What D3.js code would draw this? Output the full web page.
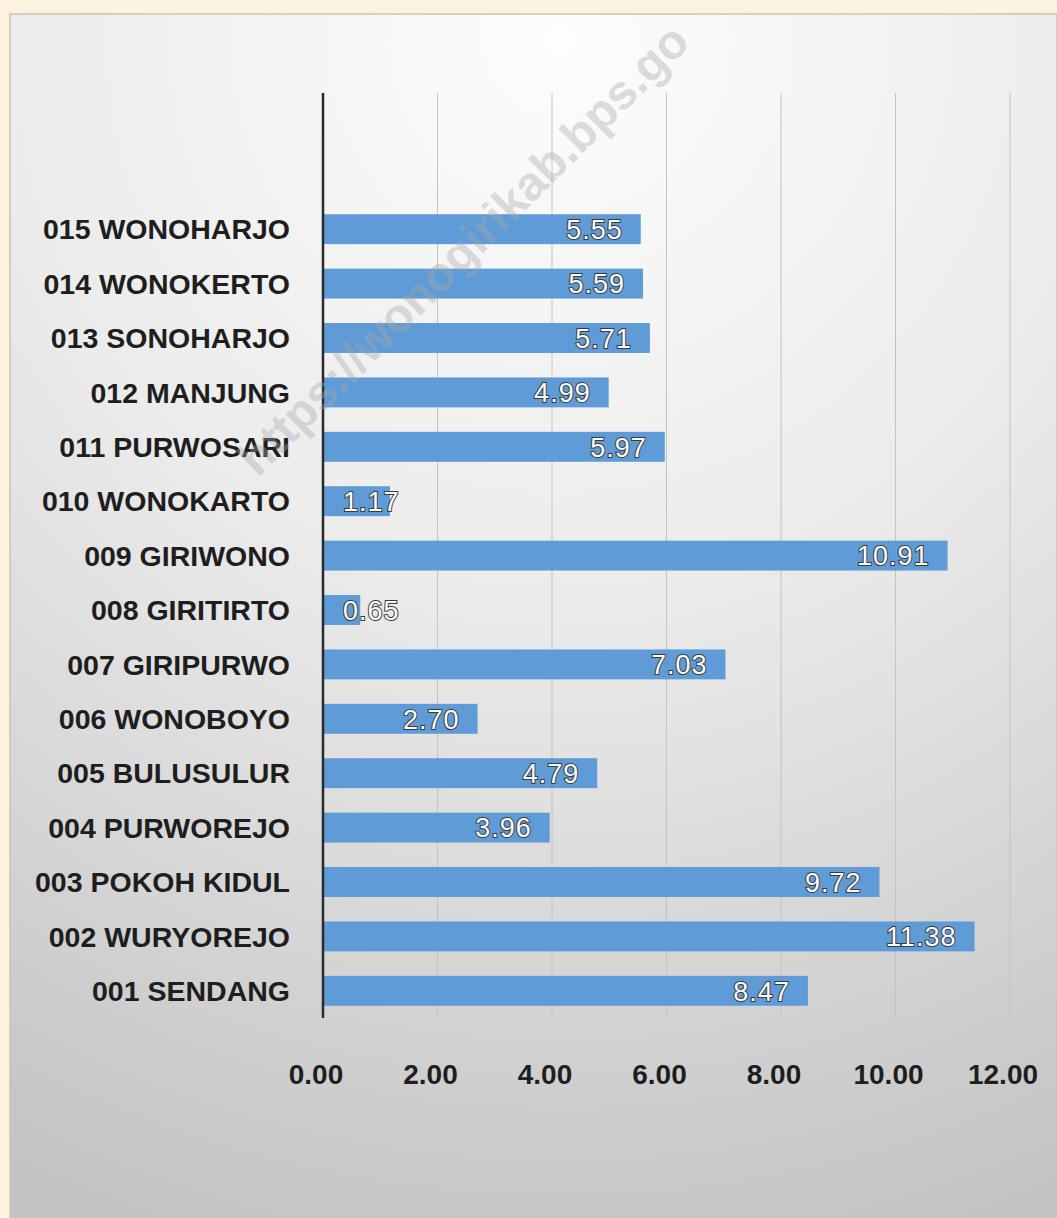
<!DOCTYPE html>
<html>
<head>
<meta charset="utf-8">
<script src="https://cdn.jsdelivr.net/npm/d3@7"></script>
<style>
  html, body { margin: 0; padding: 0; background: #fdf1e2; }
  svg { display: block; }
</style>
</head>
<body>
<div id="chart"></div>
<script>
const categories = ["001 SENDANG", "002 WURYOREJO", "003 POKOH KIDUL", "004 PURWOREJO",
  "005 BULUSULUR", "006 WONOBOYO", "007 GIRIPURWO", "008 GIRITIRTO", "009 GIRIWONO",
  "010 WONOKARTO", "011 PURWOSARI", "012 MANJUNG", "013 SONOHARJO", "014 WONOKERTO",
  "015 WONOHARJO"];
const values = [8.47, 11.38, 9.72, 3.96, 4.79, 2.70, 7.03, 0.65, 10.91, 1.17, 5.97, 4.99, 5.71, 5.59, 5.55];
const ticks = [0, 2, 4, 6, 8, 10, 12];

const width = 1057, height = 1218;

const svg = d3.select("#chart").append("svg")
  .attr("width", width)
  .attr("height", height);

const defs = svg.append("defs");
const grad = defs.append("radialGradient")
  .attr("id", "bg")
  .attr("gradientUnits", "userSpaceOnUse")
  .attr("cx", 560).attr("cy", 40).attr("r", 1250);
grad.append("stop").attr("offset", "0%").attr("stop-color", "#fdfdfd");
grad.append("stop").attr("offset", "45%").attr("stop-color", "#ebebeb");
grad.append("stop").attr("offset", "100%").attr("stop-color", "#c3c3c3");

// chart panel
svg.append("rect")
  .attr("x", 10).attr("y", 14)
  .attr("width", width - 10).attr("height", height - 14)
  .attr("fill", "url(#bg)")
  .attr("stroke", "#c9c3bb")
  .attr("stroke-width", 1.5);

const x = d3.scaleLinear().domain([0, 12]).range([323, 1010]);
const y = d3.scaleBand()
  .domain(categories.slice().reverse())
  .range([202, 1018])
  .paddingInner(0.45)
  .paddingOuter(0.225);

const plotTop = 93, plotBottom = 1018;

// gridlines
svg.append("g")
  .selectAll("line")
  .data(ticks.slice(1))
  .join("line")
  .attr("x1", d => x(d)).attr("x2", d => x(d))
  .attr("y1", plotTop).attr("y2", plotBottom)
  .attr("stroke", "#c4c4c4")
  .attr("stroke-width", 1);

// bars
svg.append("g")
  .selectAll("rect")
  .data(categories)
  .join("rect")
  .attr("x", x(0))
  .attr("y", d => y(d))
  .attr("width", (d, i) => x(values[i]) - x(0))
  .attr("height", y.bandwidth())
  .attr("fill", "#5f9bd6");

// axis line
svg.append("line")
  .attr("x1", x(0)).attr("x2", x(0))
  .attr("y1", plotTop).attr("y2", plotBottom)
  .attr("stroke", "#2b2b2b")
  .attr("stroke-width", 2.5);

// category labels
svg.append("g")
  .selectAll("text")
  .data(categories)
  .join("text")
  .attr("x", 290)
  .attr("y", d => y(d) + y.bandwidth() / 2)
  .attr("dy", "0.36em")
  .attr("text-anchor", "end")
  .style("font-family", "'Liberation Sans', Arial, sans-serif")
  .style("font-weight", "bold")
  .style("font-size", "28.5px")
  .attr("fill", "#1e1e1e")
  .text(d => d);

// tick labels
svg.append("g")
  .selectAll("text")
  .data(ticks)
  .join("text")
  .attr("x", d => x(d) - 7)
  .attr("y", 1074)
  .attr("dy", "0.36em")
  .attr("text-anchor", "middle")
  .style("font-family", "'Liberation Sans', Arial, sans-serif")
  .style("font-weight", "bold")
  .style("font-size", "28px")
  .attr("fill", "#1e1e1e")
  .text(d => d.toFixed(2));

// value labels
const vl = svg.append("g")
  .selectAll("text")
  .data(categories)
  .join("text")
  .attr("y", d => y(d) + y.bandwidth() / 2)
  .attr("dy", "0.36em")
  .style("font-family", "'Liberation Sans', Arial, sans-serif")
  .style("font-size", "27px")
  .style("letter-spacing", "1px")
  .attr("fill", "#ffffff")
  .attr("stroke", "#3a3a3a")
  .attr("stroke-width", 2)
  .attr("paint-order", "stroke")
  .text((d, i) => values[i].toFixed(2));

vl.attr("x", function(d, i) {
  const w = this.getComputedTextLength();
  return Math.max(x(0) + 20, x(values[i]) - 18 - w);
});

// watermark
svg.append("text")
  .attr("transform", "translate(258,478) rotate(-45)")
  .style("font-family", "'Liberation Sans', Arial, sans-serif")
  .style("font-weight", "bold")
  .style("font-size", "48px")
  .attr("fill", "#a8a8a8")
  .attr("fill-opacity", 0.4)
  .text("https://wonogirikab.bps.go");
</script>
</body>
</html>
